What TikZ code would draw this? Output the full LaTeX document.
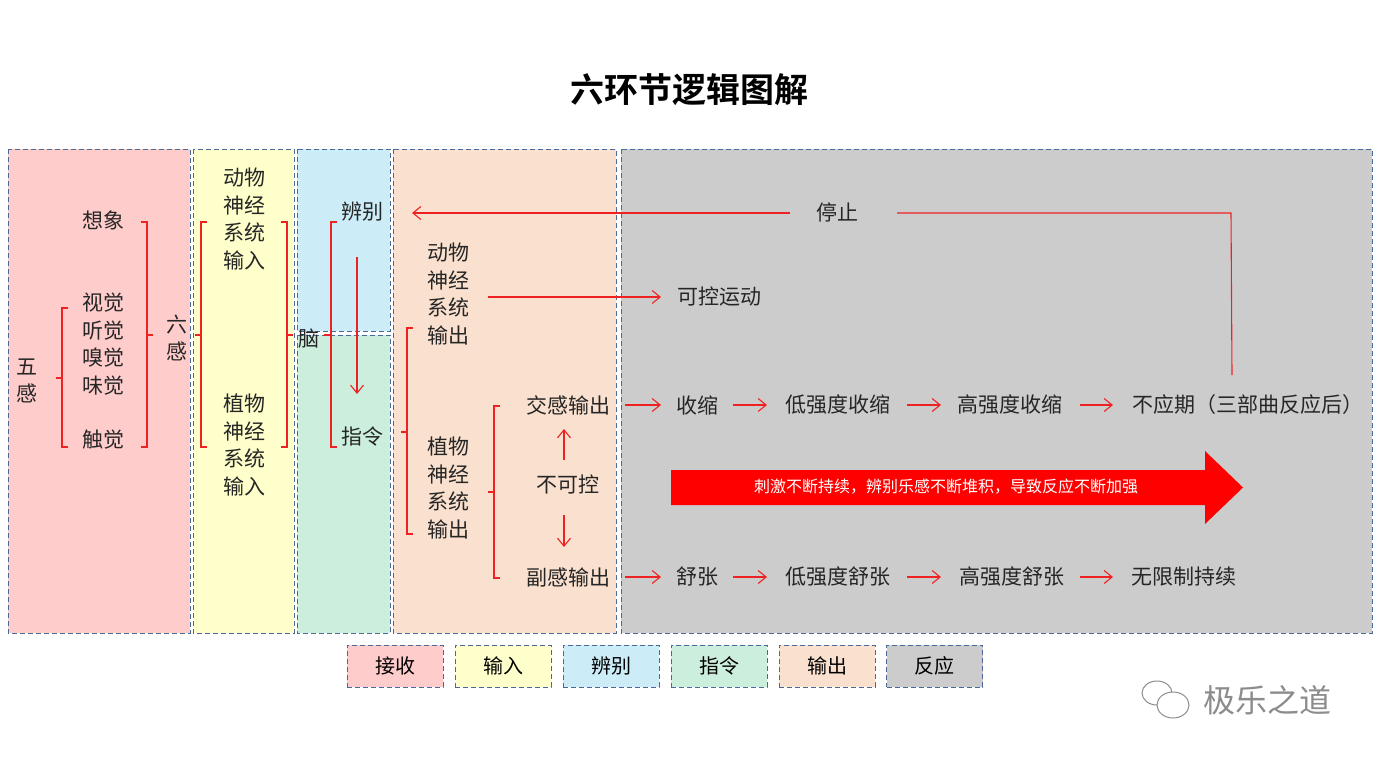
\documentclass[tikz,border=0pt]{standalone}
\usepackage{fontspec}
\setmainfont{Noto Sans CJK SC}
\newfontfamily\titlefont{Noto Sans CJK SC Bold}
\usetikzlibrary{arrows.meta,shapes.arrows}
\definecolor{cpink}{HTML}{FFCCCC}
\definecolor{cyel}{HTML}{FFFFCC}
\definecolor{cblue}{HTML}{CCECF8}
\definecolor{cgreen}{HTML}{CCEEDC}
\definecolor{cpeach}{HTML}{FAE0CE}
\definecolor{cgray}{HTML}{CCCCCC}
\definecolor{cdash}{HTML}{4A6A9A}
\definecolor{cred}{HTML}{EE2222}
\tikzset{
  col/.style={draw=cdash,dash pattern=on 5pt off 3pt,line width=1pt},
  t/.style={font=\fontsize{21}{27.5}\selectfont,inner sep=0pt,align=center,text=black!85},
  brk/.style={draw=cred,line width=1.3pt},
  arr/.style={draw=cred,line width=1.1pt,-{Straight Barb[length=8pt,width=13pt]}},
  leg/.style={draw=cdash,dash pattern=on 5pt off 3pt,line width=1pt,minimum width=96pt,minimum height=42pt,inner sep=0pt,font=\fontsize{20}{22}\selectfont}
}
\begin{document}
\begin{tikzpicture}[x=1pt,y=-1pt]
\useasboundingbox[fill=white] (0,0) rectangle (1379,761);
\node[font=\titlefont\fontsize{34}{36}\selectfont] (title) at (689,90) {六环节逻辑图解};
% columns
\fill[cpink] (8,149) rectangle (190,633); \draw[col] (8,149) rectangle (190,633);
\fill[cyel] (193,149) rectangle (294,633); \draw[col] (193,149) rectangle (294,633);
\fill[cblue] (297,149) rectangle (390,331); \draw[col] (297,149) rectangle (390,331);
\fill[cgreen] (297,335) rectangle (390,633); \draw[col] (297,335) rectangle (390,633);
\fill[cpeach] (393,149) rectangle (616,633); \draw[col] (393,149) rectangle (616,633);
\fill[cgray] (621,149) rectangle (1372,633); \draw[col] (621,149) rectangle (1372,633);
% column 1
\node[t] (xx) at (103,220) {想象};
\node[t] (sj) at (103,344) {视觉\\听觉\\嗅觉\\味觉};
\node[t] (cj) at (103,440) {触觉};
\node[t] (wg) at (27,381) {五\\感};
\node[t] (lg) at (177,338) {六\\感};
\draw[brk] (68,308) -- (62,308) -- (62,447) -- (68,447) (62,378) -- (56,378);
\draw[brk] (141,222) -- (147,222) -- (147,447) -- (141,447) (147,335) -- (153,335);
% column 2
\node[t] (dwin) at (244,219) {动物\\神经\\系统\\输入};
\node[t] (zwin) at (244,445) {植物\\神经\\系统\\输入};
\draw[brk] (207,222) -- (201,222) -- (201,447) -- (207,447) (201,335) -- (195,335);
\draw[brk] (281,222) -- (287,222) -- (287,447) -- (281,447) (287,335) -- (293,335);
% column 3
\node[t] (nao) at (309,339) {脑};
\node[t] (bb) at (362,212) {辨别};
\node[t] (zl) at (362,437) {指令};
\draw[brk] (337,222) -- (331,222) -- (331,447) -- (337,447) (331,335) -- (324,335);
\draw[arr] (357,257) -- (357,394);
% column 4
\node[t] (dwout) at (448,294) {动物\\神经\\系统\\输出};
\node[t] (zwout) at (448,488) {植物\\神经\\系统\\输出};
\draw[brk] (413,328) -- (407,328) -- (407,534) -- (413,534) (407,432) -- (401,432);
\node[t] (jg) at (568,405) {交感输出};
\node[t] (fg) at (568,577) {副感输出};
\node[t] (bkk) at (568,484) {不可控};
\draw[brk] (500,406) -- (494,406) -- (494,578) -- (500,578) (494,492) -- (488,492);
\draw[arr] (564,460) -- (564,429);
\draw[arr] (564,515) -- (564,547);
\node[t] (kkyd) at (719,297) {可控运动};
\draw[arr] (488,297) -- (661,297);
% stop loop
\node[t] (tz) at (837,212) {停止};
\node[t] (byq) at (1248,405) {不应期（三部曲反应后）};
\draw[arr] (790,213) -- (412,213);
\draw[draw=cred,line width=1.1pt] (897,213) -- (1231,213) -- (1232,375);
% row 1
\node[t] (ss) at (697,405) {收缩};
\node[t] (dss) at (838,405) {低强度收缩};
\node[t] (gss) at (1010,405) {高强度收缩};
\draw[arr] (625,405) -- (661,405);
\draw[arr] (733,405) -- (767,405);
\draw[arr] (907,405) -- (941,405);
\draw[arr] (1080,405) -- (1113,405);
% row 2
\node[t] (sz) at (697,577) {舒张};
\node[t] (dsz) at (838,577) {低强度舒张};
\node[t] (gsz) at (1012,577) {高强度舒张};
\node[t] (wx) at (1184,577) {无限制持续};
\draw[arr] (625,577) -- (661,577);
\draw[arr] (733,577) -- (767,577);
\draw[arr] (907,577) -- (941,577);
\draw[arr] (1080,577) -- (1113,577);
% big arrow
\fill[red] (671,470) -- (1205,470) -- (1205,451) -- (1243,487.5) -- (1205,524) -- (1205,505) -- (671,505) -- cycle;
\node[font=\fontsize{16}{18}\selectfont,text=white] (bigt) at (946,487) {刺激不断持续，辨别乐感不断堆积，导致反应不断加强};
% legend
\node[leg,fill=cpink] (l1) at (395,666) {接收};
\node[leg,fill=cyel] (l2) at (503,666) {输入};
\node[leg,fill=cblue] (l3) at (611,666) {辨别};
\node[leg,fill=cgreen] (l4) at (719,666) {指令};
\node[leg,fill=cpeach] (l5) at (827,666) {输出};
\node[leg,fill=cgray] (l6) at (934.5,666) {反应};
% watermark
\begin{scope}[draw=black!45,line width=1pt]
\draw (1157,693) ellipse (15 and 12);
\fill[white] (1173,705) ellipse (16 and 13);
\draw (1173,705) ellipse (16 and 13);
\end{scope}
\node[font=\fontsize{32}{34}\selectfont,text=black!45] (wm) at (1267,700) {极乐之道};
\end{tikzpicture}
\end{document}
